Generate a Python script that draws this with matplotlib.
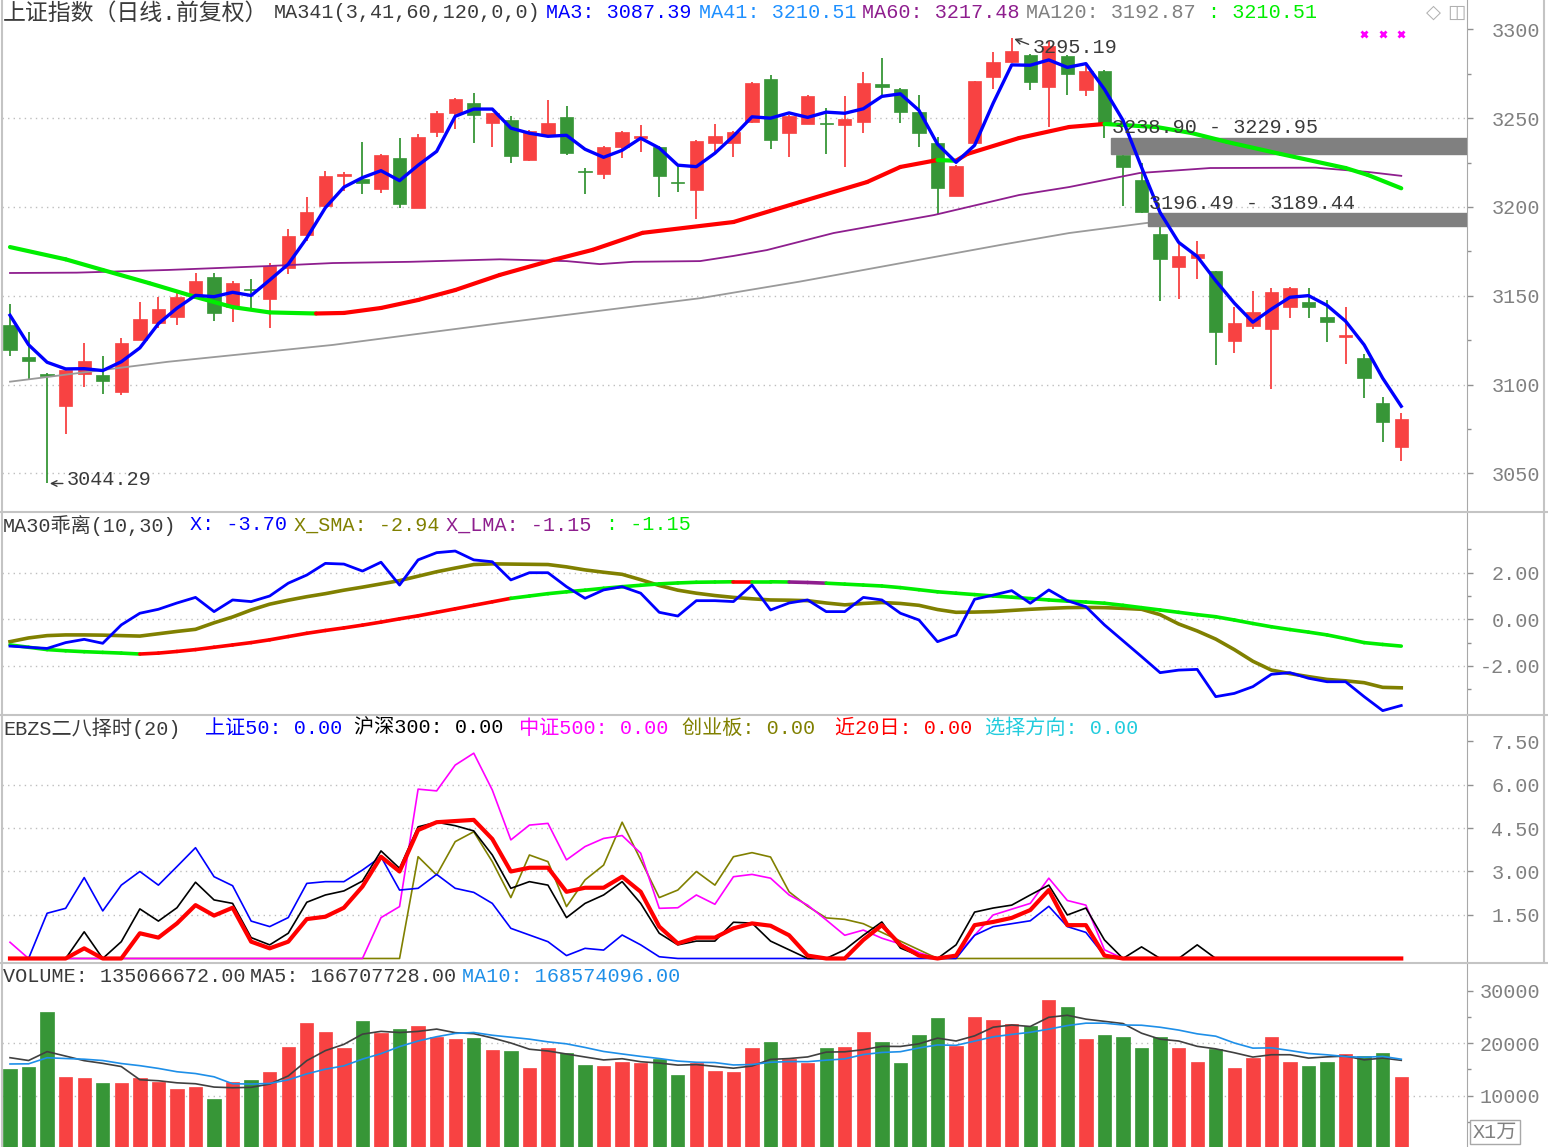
import numpy as np
import pandas as pd
import matplotlib
matplotlib.use("Agg")
import matplotlib.pyplot as plt
from matplotlib.patches import Rectangle
from matplotlib.collections import LineCollection

FONT = ["Liberation Mono", "Noto Sans CJK SC", "DejaVu Sans"]
plt.rcParams["font.family"] = FONT

# ---------------- data ----------------
opens = [3133.6, 3115.5, 3106.0, 3087.9, 3106.1, 3105.4, 3095.7, 3125.2, 3134.5, 3137.9,
         3149.5, 3160.3, 3143.8, 3154.0, 3148.0, 3165.4, 3184.0, 3200.4, 3217.5, 3215.8,
         3210.1, 3227.5, 3199.5, 3242.2, 3252.8, 3258.6, 3247.3, 3248.8, 3226.4, 3240.5,
         3250.9, 3220.0, 3218.5, 3233.6, 3239.0, 3233.9, 3214.0, 3209.4, 3235.8, 3235.8,
         3247.7, 3272.2, 3241.9, 3246.8, 3247.0, 3246.2, 3247.7, 3269.4, 3266.4, 3253.4,
         3235.8, 3206.2, 3235.8, 3273.2, 3281.5, 3285.8, 3267.3, 3284.9, 3265.6, 3276.4,
         3229.5, 3215.1, 3184.9, 3165.9, 3171.0, 3163.8, 3124.6, 3133.0, 3131.4, 3143.8,
         3146.6, 3138.2, 3127.0, 3115.0, 3089.8, 3064.6]
closes = [3119.6, 3113.0, 3105.0, 3108.4, 3113.4, 3101.8, 3123.3, 3136.8, 3142.7, 3149.5,
          3158.4, 3140.5, 3156.9, 3153.0, 3166.6, 3183.7, 3197.3, 3217.6, 3218.5, 3213.4,
          3229.3, 3201.7, 3239.4, 3252.7, 3261.0, 3251.6, 3252.7, 3228.8, 3243.0, 3247.5,
          3230.5, 3219.4, 3233.9, 3242.4, 3239.8, 3217.3, 3213.4, 3237.3, 3240.0, 3242.4,
          3269.8, 3237.7, 3251.3, 3262.2, 3246.6, 3249.4, 3269.8, 3267.5, 3253.7, 3241.9,
          3210.4, 3223.0, 3270.7, 3281.5, 3287.7, 3270.1, 3290.5, 3275.1, 3276.4, 3247.2,
          3222.6, 3197.1, 3170.9, 3172.2, 3173.3, 3129.8, 3134.5, 3141.0, 3151.9, 3154.5,
          3143.8, 3135.4, 3127.8, 3103.8, 3079.1, 3080.4]
highs = [3145.4, 3129.8, 3106.5, 3109.0, 3123.3, 3115.9, 3126.0, 3146.3, 3149.5, 3152.8,
         3162.9, 3162.9, 3158.4, 3159.7, 3168.5, 3187.4, 3205.8, 3220.0, 3219.8, 3236.4,
         3230.0, 3238.7, 3240.9, 3254.0, 3261.5, 3263.9, 3253.0, 3251.2, 3243.5, 3260.4,
         3257.0, 3221.7, 3234.5, 3243.0, 3246.0, 3234.5, 3223.2, 3237.5, 3246.8, 3242.8,
         3270.6, 3274.5, 3251.5, 3262.8, 3255.7, 3262.6, 3275.8, 3284.0, 3266.8, 3262.8,
         3239.6, 3223.5, 3271.0, 3287.3, 3295.19, 3286.0, 3293.5, 3285.5, 3280.0, 3277.3,
         3229.95, 3224.9, 3189.44, 3179.5, 3180.8, 3164.0, 3143.8, 3152.8, 3154.5, 3154.8,
         3154.5, 3147.6, 3143.5, 3117.4, 3093.1, 3083.8]
lows = [3116.2, 3103.2, 3044.29, 3072.4, 3098.7, 3094.4, 3094.0, 3125.0, 3131.7, 3133.6,
        3149.5, 3136.0, 3135.4, 3142.0, 3132.0, 3162.5, 3181.0, 3200.0, 3208.8, 3207.3,
        3207.7, 3199.5, 3199.5, 3239.4, 3243.7, 3236.2, 3233.8, 3224.5, 3226.0, 3240.0,
        3229.2, 3207.0, 3215.7, 3227.4, 3231.1, 3205.6, 3208.5, 3193.4, 3231.1, 3228.3,
        3247.5, 3232.5, 3228.3, 3246.5, 3229.8, 3222.6, 3241.9, 3262.2, 3247.2, 3233.6,
        3196.2, 3206.0, 3235.5, 3266.4, 3281.0, 3265.6, 3245.2, 3263.2, 3262.2, 3238.90,
        3200.4, 3196.49, 3147.2, 3148.0, 3159.2, 3110.8, 3117.7, 3131.2, 3097.6, 3137.3,
        3137.3, 3123.7, 3111.8, 3092.6, 3067.9, 3057.1]
prior_closes = [3162.8, 3134.6]          # two sessions before the window (for MA3)

ma41_idx = [0, 3, 5, 7.5, 10, 12, 14, 16.5, 18, 20, 22, 24, 26.4, 29.3, 31.4, 34.1, 39,
            42.6, 46.2, 48, 50, 51, 51.6, 54.4, 57.1, 59, 61.8, 63.7, 65.6, 68.5, 72, 73.2, 75]
ma41_val = [3177.4, 3170.5, 3164.5, 3157.1, 3149.3, 3143.6, 3140.6, 3140.0, 3140.3, 3143.1,
            3147.6, 3153.2, 3161.7, 3170.2, 3175.8, 3185.4, 3191.5, 3202.8, 3214.0, 3222.5,
            3226.4, 3226.0, 3229.8, 3238.8, 3245.0, 3246.7, 3245.0, 3241.6, 3236.6, 3229.8,
            3221.9, 3218.0, 3210.5]
ma60_idx = [0, 3.6, 8.5, 13.9, 17.4, 21.6, 26.4, 30, 31.8, 33.6, 37.2, 39, 40.8, 44.4,
            49.8, 54.4, 57.1, 60.9, 64.7, 70.4, 73.2, 75]
ma60_val = [3162.8, 3163.0, 3164.5, 3166.7, 3168.4, 3169.1, 3170.5, 3169.5, 3167.8, 3169.1,
            3169.5, 3172.4, 3175.7, 3185.3, 3195.4, 3206.7, 3211.2, 3219.1, 3221.9, 3222.1,
            3219.7, 3217.5]
ma120_idx = [0, 8.5, 17.4, 26.4, 37.2, 42.6, 48, 53.4, 57.1, 61.3, 75]
ma120_val = [3101.6, 3112.8, 3122.3, 3134.5, 3148.6, 3158.0, 3168.3, 3178.6, 3185.3, 3191.0, 3192.9]

gaps = [(59, 3238.90, 3229.95), (61, 3196.49, 3189.44)]
signal_idx = [73, 74, 75]

main_legend = [("MA3: 3087.39", 546, "#0000FF"), ("MA41: 3210.51", 699, "#1E90FF"),
               ("MA60: 3217.48", 862, "#8E1E8E"), ("MA120: 3192.87", 1026, "#808080"),
               (": 3210.51", 1208, "#00EE00")]

# MA30 deviation panel
dev_x = [-1.15, -1.2, -1.25, -1.0, -0.86, -1.03, -0.24, 0.26, 0.43, 0.7,
         0.94, 0.33, 0.83, 0.76, 1.0, 1.55, 1.9, 2.4, 2.37, 2.07,
         2.45, 1.47, 2.55, 2.86, 2.93, 2.55, 2.47, 1.69, 2.0, 2.0,
         1.4, 0.9, 1.26, 1.4, 1.12, 0.3, 0.14, 0.8, 0.8, 0.76,
         1.47, 0.4, 0.7, 0.83, 0.33, 0.33, 0.94, 0.83, 0.26, -0.03,
         -0.96, -0.67, 0.86, 1.04, 1.23, 0.69, 1.26, 0.8, 0.54, -0.24,
         -0.92, -1.6, -2.29, -2.18, -2.15, -3.32, -3.18, -2.89, -2.36, -2.29,
         -2.53, -2.68, -2.68, -3.32, -3.92, -3.70]
dev_sma = [-0.96, -0.8, -0.7, -0.67, -0.67, -0.68, -0.7, -0.72, -0.62, -0.52,
           -0.43, -0.15, 0.1, 0.4, 0.65, 0.82, 0.97, 1.1, 1.25, 1.38,
           1.52, 1.66, 1.85, 2.04, 2.2, 2.35, 2.38, 2.37, 2.36, 2.35,
           2.25, 2.12, 2.02, 1.93, 1.7, 1.45, 1.25, 1.12, 1.02, 0.94,
           0.88, 0.83, 0.82, 0.8, 0.7, 0.62, 0.68, 0.72, 0.68, 0.6,
           0.42, 0.3, 0.31, 0.33, 0.38, 0.43, 0.47, 0.5, 0.51, 0.5,
           0.47, 0.43, 0.2, -0.2, -0.5, -0.85, -1.3, -1.8, -2.18, -2.33,
           -2.46, -2.58, -2.64, -2.72, -2.92, -2.94]
dev_lma = [-1.1, -1.2, -1.3, -1.35, -1.39, -1.42, -1.45, -1.49, -1.45, -1.38,
           -1.3, -1.2, -1.1, -1.0, -0.88, -0.74, -0.6, -0.48, -0.37, -0.25,
           -0.12, 0.02, 0.15, 0.3, 0.45, 0.6, 0.75, 0.9, 1.0, 1.1,
           1.18, 1.25, 1.33, 1.4, 1.46, 1.52, 1.56, 1.59, 1.6, 1.61,
           1.61, 1.61, 1.6, 1.58, 1.55, 1.51, 1.47, 1.43, 1.36, 1.27,
           1.18, 1.12, 1.06, 1.0, 0.95, 0.89, 0.83, 0.78, 0.74, 0.69,
           0.6, 0.5, 0.4, 0.3, 0.2, 0.11, -0.03, -0.18, -0.32, -0.44,
           -0.55, -0.67, -0.83, -1.0, -1.08, -1.15]

# EBZS panel
sz50 = [0, 0, 1.56, 1.73, 2.79, 1.64, 2.53, 3.0, 2.53, 3.17,
        3.82, 2.82, 2.51, 1.29, 1.1, 1.41, 2.59, 2.65, 2.65, 3.05,
        3.51, 2.36, 2.42, 2.9, 2.42, 2.28, 1.9, 1.04, 0.81, 0.58,
        0.1, 0.35, 0.29, 0.81, 0.47, 0.06, 0, 0, 0, 0,
        0, 0, 0, 0, 0, 0, 0, 0, 0, 0,
        0, 0, 0.8, 1.1, 1.2, 1.3, 1.8, 1.1, 0.9, 0.1,
        0, 0, 0, 0, 0, 0, 0, 0, 0, 0,
        0, 0, 0, 0, 0, 0]
hs300 = [0, 0, 0, 0, 0.92, 0, 0.58, 1.71, 1.29, 1.75,
         2.63, 2.02, 1.9, 0.72, 0.47, 0.87, 1.94, 2.19, 2.33, 2.67,
         3.71, 3.11, 4.54, 4.7, 4.58, 4.4, 3.57, 2.42, 2.65, 2.53,
         1.41, 1.9, 2.19, 2.65, 1.9, 0.87, 0.47, 0.6, 0.6, 1.25,
         1.22, 0.6, 0.3, 0, 0, 0.3, 0.8, 1.26, 0.36, 0.1,
         0, 0.47, 1.6, 1.74, 1.84, 2.19, 2.53, 1.5, 1.74, 0.64,
         0, 0.4, 0, 0, 0.47, 0, 0, 0, 0, 0,
         0, 0, 0, 0, 0, 0]
zz500 = [0.56, 0, 0, 0, 0, 0, 0, 0, 0, 0,
         0, 0, 0, 0, 0, 0, 0, 0, 0, 0,
         1.41, 1.79, 5.84, 5.78, 6.67, 7.08, 5.81, 4.09, 4.6, 4.66,
         3.4, 3.86, 4.14, 4.24, 3.63, 1.73, 1.75, 2.19, 1.87, 2.82,
         2.9, 2.77, 2.19, 1.84, 1.33, 0.8, 0.98, 0.7, 0.5, 0.2,
         0, 0.1, 0.8, 1.5, 1.7, 1.9, 2.77, 2.0, 1.84, 0.3,
         0, 0, 0, 0, 0, 0, 0, 0, 0, 0,
         0, 0, 0, 0, 0, 0]
cyb = [0, 0, 0, 0, 0, 0, 0, 0, 0, 0,
       0, 0, 0, 0, 0, 0, 0, 0, 0, 0,
       0, 0, 3.51, 2.88, 4.03, 4.37, 3.34, 2.1, 3.57, 3.34,
       1.79, 2.71, 3.22, 4.7, 3.4, 2.1, 2.36, 3.0, 2.53, 3.51,
       3.65, 3.5, 2.3, 1.8, 1.4, 1.35, 1.2, 0.9, 0.6, 0.3,
       0, 0, 0, 0, 0, 0, 0, 0, 0, 0,
       0, 0, 0, 0, 0, 0, 0, 0, 0, 0,
       0, 0, 0, 0, 0, 0]
near20 = [0, 0, 0, 0, 0.35, 0, 0, 0.87, 0.72, 1.21,
          1.84, 1.48, 1.75, 0.58, 0.35, 0.58, 1.36, 1.44, 1.75, 2.48,
          3.51, 3.0, 4.43, 4.7, 4.74, 4.78, 4.12, 3.0, 3.13, 3.13,
          2.3, 2.44, 2.44, 2.82, 2.3, 1.1, 0.52, 0.72, 0.72, 1.04,
          1.21, 1.13, 0.8, 0.1, 0, 0, 0.64, 1.15, 0.47, 0.1,
          0, 0.1, 1.15, 1.26, 1.4, 1.67, 2.36, 1.15, 1.15, 0.1,
          0, 0, 0, 0, 0, 0, 0, 0, 0, 0,
          0, 0, 0, 0, 0, 0]
direction_last = 0.00

# volume (unit: 10k shares)
volume = [15030, 15520, 25880, 13620, 13310, 12480, 12480, 13310, 12670, 11330,
          11600, 9310, 12670, 13050, 14450, 19330, 23900, 22190, 19030, 24170,
          22000, 22760, 23280, 21240, 20740, 21050, 18700, 18460, 15330, 19030,
          18190, 15850, 15660, 16480, 16170, 16930, 13880, 16170, 14760, 14450,
          19030, 20170, 16990, 16290, 19030, 19330, 22190, 20170, 16170, 21560,
          24740, 19470, 25050, 24420, 23660, 23330, 28230, 26950, 20740, 21560,
          21240, 19030, 21240, 19030, 16480, 18840, 15330, 17120, 21240, 16480,
          15660, 16480, 17890, 17620, 18190, 13507]
prior_volume = [15200, 14300, 15100, 14600, 15000, 18200, 17400, 17900, 17670]
vol_legend = [("VOLUME: 135066672.00", 3, "#3A3A3A"), ("MA5: 166707728.00", 250, "#3A3A3A"),
              ("MA10: 168574096.00", 462, "#1E8FE8")]

# ---------------- derived ----------------
o = np.array(opens); c = np.array(closes); h = np.array(highs); l = np.array(lows)
n = len(c)
idx = np.arange(n)
ma3 = pd.Series(prior_closes + closes).rolling(3).mean().to_numpy()[len(prior_closes):]
vs = pd.Series(prior_volume + volume)
vma5 = vs.rolling(5).mean().to_numpy()[len(prior_volume):]
vma10 = vs.rolling(10).mean().to_numpy()[len(prior_volume):]

RED = "#F84242"
GREEN = "#379637"
TXT = "#3A3A3A"
AXC = "#808080"
FS = 14.5

W, H = 1548, 1147
fig = plt.figure(figsize=(W / 100, H / 100), dpi=100)
fig.patch.set_facecolor("white")


def box(x0, y0, x1, y1):
    return [x0 / W, 1 - y1 / H, (x1 - x0) / W, (y1 - y0) / H]


def ftext(x, y, s, color, **kw):
    kw.setdefault("fontsize", FS)
    fig.text(x / W, 1 - y / H, s, color=color, va="center", ha="left", **kw)


XL = (-8 / 18.55, 1457 / 18.55)


def setup(ax, ylim, major, labels, minor=(), grid=()):
    ax.set_xlim(XL)
    ax.set_ylim(ylim)
    ax.set_facecolor("white")
    ax.set_xticks([])
    ax.yaxis.tick_right()
    ax.set_yticks(major)
    ax.set_yticklabels(labels)
    ax.set_yticks(minor, minor=True)
    ax.tick_params(axis="y", which="major", length=4.5, width=1, color="#909090",
                   pad=48, labelsize=FS, labelcolor=AXC)
    ax.tick_params(axis="y", which="minor", length=3, width=1, color="#909090")
    for lab in ax.get_yticklabels():
        lab.set_horizontalalignment("right")
    for s in ["top", "bottom", "left"]:
        ax.spines[s].set_visible(False)
    ax.spines["right"].set_color("#A8A8A8")
    for g in grid:
        ax.axhline(g, color="#BEBEBE", lw=1, ls=(0, (1, 3)), zorder=0)


def colored_line(ax, xs, ys, colors, lw, z):
    segs = [[(xs[i], ys[i]), (xs[i + 1], ys[i + 1])] for i in range(len(xs) - 1)]
    ax.add_collection(LineCollection(segs, colors=colors, linewidths=lw, zorder=z,
                                     capstyle="round"))


# ---------------- main price panel ----------------
ax1 = fig.add_axes(box(2, 0, 1467, 511))
setup(ax1, (3028.8, 3316.5), [3050, 3100, 3150, 3200, 3250, 3300],
      ["3050", "3100", "3150", "3200", "3250", "3300"],
      minor=[3075, 3125, 3175, 3225, 3275], grid=[3050, 3100, 3150, 3200, 3250])

col = np.where(c >= o, RED, GREEN)
ax1.vlines(idx, l, h, colors=col, lw=1.3, zorder=2)
ax1.bar(idx, np.maximum(np.abs(c - o), 0.7), bottom=np.minimum(o, c), width=0.72,
        color=col, edgecolor=col, lw=0.5, zorder=3)

ax1.plot(ma120_idx, ma120_val, color="#9A9A9A", lw=1.3, zorder=3.5)
for gi, top, bot in gaps:
    ax1.add_patch(Rectangle((gi + 0.35, bot), XL[1] - gi, top - bot, color="#808080", zorder=4))
    ax1.text(gi + 0.4, top + 5.6, f"{top:.2f} - {bot:.2f}", color=TXT, fontsize=FS,
             va="center", ha="left", zorder=7)
ax1.plot(ma60_idx, ma60_val, color="#8E1E8E", lw=1.3, zorder=5)
slope_cols = ["#FF0000" if b >= a else "#00EE00" for a, b in zip(ma41_val[:-1], ma41_val[1:])]
colored_line(ax1, ma41_idx, ma41_val, slope_cols, 3.0, 5.5)
ax1.plot(idx, ma3, color="#0000FF", lw=2.4, zorder=6)

ax1.plot(signal_idx, [3297.5] * len(signal_idx), ls="none", marker="x", ms=5, mew=2,
         color="#FF00FF", zorder=6)

lo_i = int(np.argmin(l))
hi_i = int(np.argmax(h))
ax1.annotate("", xy=(lo_i, l[lo_i]), xytext=(lo_i + 1.0, l[lo_i]),
             arrowprops=dict(arrowstyle="->", color=TXT, lw=1), zorder=7)
ax1.text(lo_i + 1.05, l[lo_i] + 2.5, f"{l[lo_i]:.2f}", color=TXT, fontsize=FS,
         va="center", ha="left", zorder=7)
ax1.annotate("", xy=(hi_i, h[hi_i]), xytext=(hi_i + 1.05, h[hi_i] - 4.2),
             arrowprops=dict(arrowstyle="->", color=TXT, lw=1), zorder=7)
ax1.text(hi_i + 1.15, h[hi_i] - 5.2, f"{h[hi_i]:.2f}", color=TXT, fontsize=FS,
         va="center", ha="left", zorder=7)

ftext(3, 13, "上证指数（日线.前复权）", TXT, fontsize=16.5)
ftext(274, 13, "MA341(3,41,60,120,0,0)", TXT)
for s, x, cc in main_legend:
    ftext(x, 13, s, cc)
fig.text(1433 / W, 1 - 12 / H, "◇", color="#B0B0B0", fontsize=14, va="center", ha="center",
         family="DejaVu Sans")
fig.text(1456 / W, 1 - 12 / H, "◫", color="#B0B0B0", fontsize=14, va="center", ha="center",
         family="DejaVu Sans")

# ---------------- MA30 deviation ----------------
ax2 = fig.add_axes(box(2, 512, 1467, 714))
setup(ax2, (-4.064, 4.605), [-2, 0, 2], ["-2.00", "0.00", "2.00"],
      minor=[-3, -1, 1, 3], grid=[-2, 0, 2])
ax2.plot(idx, dev_sma, color="#808000", lw=2.6, zorder=3)
lma_breaks = [(0, "#00EE00"), (7, "#FF0000"), (27, "#00EE00"), (39, "#FF0000"),
              (40, "#00EE00"), (42, "#8E1E8E"), (44, "#00EE00")]
lma_cols = []
for i in range(n - 1):
    cc = lma_breaks[0][1]
    for start, colr in lma_breaks:
        if i >= start:
            cc = colr
    lma_cols.append(cc)
colored_line(ax2, idx, dev_lma, lma_cols, 2.6, 3.5)
ax2.plot(idx, dev_x, color="#0000FF", lw=2.0, zorder=4)

ftext(3, 525, "MA30乖离(10,30)", TXT)
ftext(190, 525, f"X: {dev_x[-1]:.2f}", "#0000FF")
ftext(294, 525, f"X_SMA: {dev_sma[-1]:.2f}", "#808000")
ftext(446, 525, f"X_LMA: {dev_lma[-1]:.2f}", "#8E1E8E")
ftext(606, 525, f": {dev_lma[-1]:.2f}", "#00EE00")

# ---------------- EBZS ----------------
ax3 = fig.add_axes(box(2, 715, 1467, 962))
setup(ax3, (-0.121, 8.397), [1.5, 3.0, 4.5, 6.0, 7.5], ["1.50", "3.00", "4.50", "6.00", "7.50"],
      grid=[1.5, 3.0, 4.5, 6.0])
ax3.plot(idx, cyb, color="#808000", lw=1.2, zorder=3)
ax3.plot(idx, zz500, color="#FF00FF", lw=1.2, zorder=3)
ax3.plot(idx, sz50, color="#0000FF", lw=1.2, zorder=3)
ax3.plot(idx, hs300, color="#000000", lw=1.2, zorder=3)
ax3.plot(idx, near20, color="#FF0000", lw=3.0, zorder=4)

ftext(3, 728, "EBZS二八择时(20)", TXT)
ftext(205, 728, f"上证50: {sz50[-1]:.2f}", "#0000FF")
ftext(354, 728, f"沪深300: {hs300[-1]:.2f}", "#000000")
ftext(519, 728, f"中证500: {zz500[-1]:.2f}", "#FF00FF")
ftext(682, 728, f"创业板: {cyb[-1]:.2f}", "#808000")
ftext(835, 728, f"近20日: {near20[-1]:.2f}", "#FF0000")
ftext(985, 728, f"选择方向: {direction_last:.2f}", "#22CCDD")

# ---------------- volume ----------------
ax4 = fig.add_axes(box(2, 963, 1467, 1147))
setup(ax4, (229, 35276), [10000, 20000, 30000], ["10000", "20000", "30000"],
      minor=[5000, 15000, 25000], grid=[10000, 20000])
ax4.bar(idx, volume, width=0.72, color=col, edgecolor=col, lw=0.5, zorder=2)
ax4.plot(idx, vma5, color="#404040", lw=1.2, zorder=3)
ax4.plot(idx, vma10, color="#1E8FE8", lw=1.2, zorder=3)

for s, x, cc in vol_legend:
    ftext(x, 976, s, cc)
fig.text(1495 / W, 1 - 1132 / H, "X1万", color=AXC, fontsize=FS, va="center", ha="center",
         bbox=dict(boxstyle="square,pad=0.12", fc="white", ec="#A8A8A8"))

# ---------------- frame lines ----------------
for yy in [511.5, 714.5, 962.5]:
    fig.add_artist(plt.Line2D([0, 1], [1 - yy / H] * 2, color="#C4C4C4", lw=1.5))
fig.add_artist(plt.Line2D([2 / W] * 2, [0, 1], color="#C4C4C4", lw=1.5))
fig.add_artist(plt.Line2D([1544 / W] * 2, [1 - 962 / H, 1], color="#C4C4C4", lw=1.5))

fig.savefig("out.png", dpi=100, facecolor="white")
